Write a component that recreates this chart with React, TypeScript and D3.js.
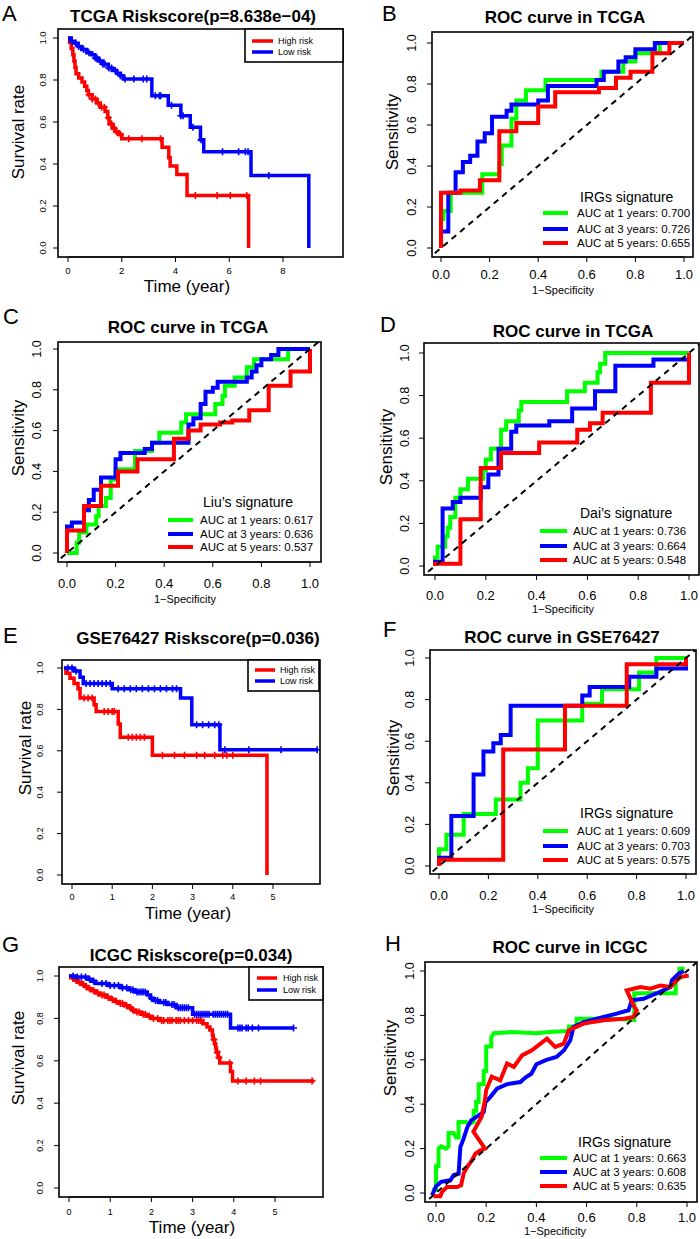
import React from 'react';
import * as d3 from 'd3';

const FONT = "'Liberation Sans', Arial, Helvetica, sans-serif";
const RED = '#FF0000';
const BLUE = '#0000FF';
const GREEN = '#00FF00';

// ---------------- tick labels / categories ----------------
const kmYTicks = [0, 0.2, 0.4, 0.6, 0.8, 1.0];
const rocTicks = [0, 0.2, 0.4, 0.6, 0.8, 1.0];
const tcgaTimeTicks = [0, 2, 4, 6, 8];
const gseTimeTicks = [0, 1, 2, 3, 4, 5];
const icgcTimeTicks = [0, 1, 2, 3, 4, 5];
const riskLabels = ['High risk', 'Low risk'];
const aucYears = [1, 3, 5];

// ---------------- KM: TCGA (A) ----------------
const tcgaHighSteps = [[0.06,0.98],[0.12,0.95],[0.18,0.92],[0.22,0.89],[0.26,0.86],[0.3,0.83],[0.4,0.81],[0.52,0.79],[0.62,0.77],[0.7,0.75],[0.76,0.73],[0.9,0.71],[1.07,0.69],[1.2,0.67],[1.38,0.65],[1.48,0.62],[1.53,0.59],[1.65,0.57],[1.75,0.555],[1.88,0.54],[2.0,0.52],[3.5,0.48],[3.75,0.43],[3.8,0.39],[4.05,0.35],[4.43,0.25],[6.72,0]];
const tcgaHighEnd = 6.72;
const tcgaHighCens = [0.78,0.9,1.02,1.12,1.25,1.35,1.5,1.6,1.62,1.72,1.8,1.95,2.26,2.75,3.44,4.74,5.55,6.04,6.65];
const tcgaLowSteps = [[0.12,0.985],[0.26,0.975],[0.38,0.96],[0.51,0.945],[0.7,0.93],[0.88,0.92],[1.0,0.905],[1.13,0.89],[1.3,0.875],[1.5,0.857],[1.65,0.845],[1.81,0.832],[1.95,0.82],[2.06,0.805],[3.12,0.725],[3.73,0.68],[4.2,0.63],[4.55,0.575],[4.93,0.515],[5.05,0.458],[6.81,0.345],[8.96,0]];
const tcgaLowEnd = 8.96;
const tcgaLowCens = [0.15,0.28,0.4,0.58,0.78,1.02,1.08,1.2,1.3,1.38,1.52,1.62,1.76,1.95,2.12,2.45,2.8,2.93,3.25,3.4,3.45,3.85,4.2,4.28,4.65,4.95,5.75,6.35,6.6,6.7,7.47];

// ---------------- KM: GSE76427 (E) ----------------
const gseStart = -0.2;
const gseHighSteps = [[-0.15,0.975],[-0.05,0.95],[0.05,0.925],[0.15,0.9],[0.2,0.855],[0.55,0.823],[0.6,0.79],[1.15,0.73],[1.2,0.665],[2.0,0.578],[4.85,0]];
const gseHighEnd = 4.85;
const gseHighCens = [0.3,0.4,0.5,0.8,0.9,1.0,1.05,1.4,1.5,1.6,1.7,1.8,2.25,2.55,2.8,3.1,3.3,3.55,3.75,3.85,4.0];
const gseLowSteps = [[0.05,0.985],[0.2,0.955],[0.28,0.925],[1.0,0.9],[2.7,0.855],[2.98,0.726],[3.68,0.605]];
const gseLowEnd = 6.1;
const gseLowCens = [-0.1,0.0,0.1,0.35,0.45,0.55,0.65,0.75,0.85,0.95,1.15,1.3,1.45,1.6,1.75,1.9,2.05,2.2,2.35,2.5,2.6,3.1,3.25,3.4,3.55,3.65,3.8,4.4,5.2,6.1];

// ---------------- KM: ICGC (G) ----------------
const icgcHighSteps = [[0.05,0.99],[0.12,0.98],[0.2,0.97],[0.3,0.96],[0.38,0.95],[0.45,0.94],[0.55,0.93],[0.65,0.92],[0.75,0.91],[0.9,0.9],[1.0,0.89],[1.1,0.88],[1.22,0.87],[1.35,0.86],[1.45,0.85],[1.52,0.84],[1.6,0.83],[1.75,0.82],[1.88,0.81],[2.0,0.8],[2.2,0.79],[3.25,0.775],[3.35,0.76],[3.42,0.745],[3.48,0.72],[3.5,0.7],[3.53,0.68],[3.56,0.66],[3.58,0.64],[3.62,0.615],[3.66,0.59],[3.92,0.55],[3.97,0.505]];
const icgcHighEnd = 5.95;
const icgcHighCens = [0.1,0.18,0.25,0.35,0.42,0.5,0.6,0.7,0.8,0.85,0.95,1.05,1.15,1.25,1.3,1.4,1.5,1.55,1.65,1.7,1.8,1.85,1.95,2.05,2.15,2.25,2.3,2.4,2.45,2.5,2.6,2.65,2.7,2.8,2.9,3.0,3.1,3.15,3.2,3.52,3.6,3.64,3.9,4.1,4.3,4.5,4.65,5.9];
const icgcLowSteps = [[0.15,0.995],[0.45,0.985],[0.55,0.975],[0.65,0.965],[0.95,0.955],[1.25,0.945],[1.45,0.935],[1.6,0.925],[1.9,0.91],[1.98,0.895],[2.05,0.885],[2.2,0.875],[2.4,0.865],[2.6,0.85],[3.0,0.82],[3.92,0.755]];
const icgcLowEnd = 5.45;
const icgcLowCens = [0.1,0.2,0.3,0.4,0.5,0.6,0.8,0.9,1.0,1.1,1.2,1.3,1.4,1.5,1.55,1.65,1.7,1.75,1.8,1.85,2.0,2.1,2.15,2.3,2.35,2.5,2.55,2.65,2.7,2.75,2.8,2.85,2.9,3.05,3.1,3.15,3.2,3.25,3.3,3.35,3.4,3.5,3.55,3.6,3.65,3.7,3.75,3.8,3.85,4.1,4.15,4.2,4.3,4.35,4.45,4.6,5.45];

// ---------------- ROC: TCGA IRGs (B) ----------------
const tcgaIrg1 = [[0,0],[0,0.14],[0.01,0.14],[0.01,0.18],[0.04,0.18],[0.04,0.27],[0.17,0.27],[0.17,0.36],[0.24,0.36],[0.24,0.41],[0.25,0.41],[0.25,0.5],[0.29,0.5],[0.29,0.63],[0.31,0.63],[0.31,0.72],[0.35,0.72],[0.35,0.77],[0.43,0.77],[0.43,0.82],[0.66,0.82],[0.66,0.86],[0.75,0.86],[0.75,0.91],[0.8,0.91],[0.8,0.95],[0.9,0.95],[0.9,1],[1,1]];
const tcgaIrg3 = [[0,0],[0,0.08],[0.03,0.08],[0.03,0.27],[0.06,0.27],[0.06,0.37],[0.09,0.37],[0.09,0.42],[0.12,0.42],[0.12,0.45],[0.15,0.45],[0.15,0.52],[0.18,0.52],[0.18,0.56],[0.21,0.56],[0.21,0.64],[0.27,0.64],[0.27,0.67],[0.29,0.67],[0.29,0.7],[0.4,0.7],[0.4,0.72],[0.44,0.72],[0.44,0.79],[0.64,0.79],[0.64,0.82],[0.67,0.82],[0.67,0.86],[0.73,0.86],[0.73,0.91],[0.76,0.91],[0.76,0.93],[0.8,0.93],[0.8,0.97],[0.88,0.97],[0.88,1],[1,1]];
const tcgaIrg5 = [[0,0],[0,0.27],[0.08,0.27],[0.08,0.28],[0.16,0.28],[0.16,0.33],[0.24,0.33],[0.24,0.57],[0.31,0.57],[0.31,0.61],[0.4,0.61],[0.4,0.69],[0.47,0.69],[0.47,0.76],[0.65,0.76],[0.65,0.78],[0.72,0.78],[0.72,0.83],[0.78,0.83],[0.78,0.86],[0.87,0.86],[0.87,0.95],[0.94,0.95],[0.94,1],[1,1]];
const tcgaIrgAuc = ['0.700', '0.726', '0.655'];

// ---------------- ROC: Liu (C) ----------------
const liu1 = [[0,0],[0.04,0],[0.04,0.05],[0.05,0.05],[0.05,0.1],[0.08,0.1],[0.08,0.14],[0.12,0.14],[0.12,0.18],[0.13,0.18],[0.13,0.23],[0.16,0.23],[0.16,0.27],[0.18,0.27],[0.18,0.36],[0.2,0.36],[0.2,0.41],[0.28,0.41],[0.28,0.5],[0.35,0.5],[0.35,0.54],[0.38,0.54],[0.38,0.59],[0.47,0.59],[0.47,0.64],[0.49,0.64],[0.49,0.68],[0.61,0.68],[0.61,0.73],[0.64,0.73],[0.64,0.77],[0.65,0.77],[0.65,0.82],[0.69,0.82],[0.69,0.86],[0.74,0.86],[0.74,0.91],[0.77,0.91],[0.77,0.95],[0.91,0.95],[0.91,1],[1,1]];
const liu3 = [[0,0],[0,0.13],[0.02,0.13],[0.02,0.15],[0.07,0.15],[0.07,0.21],[0.09,0.21],[0.09,0.26],[0.11,0.26],[0.11,0.31],[0.14,0.31],[0.14,0.37],[0.2,0.37],[0.2,0.46],[0.22,0.46],[0.22,0.49],[0.32,0.49],[0.32,0.51],[0.35,0.51],[0.35,0.54],[0.5,0.54],[0.5,0.63],[0.52,0.63],[0.52,0.66],[0.55,0.66],[0.55,0.73],[0.57,0.73],[0.57,0.79],[0.6,0.79],[0.6,0.81],[0.62,0.81],[0.62,0.84],[0.74,0.84],[0.74,0.86],[0.76,0.86],[0.76,0.89],[0.78,0.89],[0.78,0.92],[0.8,0.92],[0.8,0.95],[0.84,0.95],[0.84,0.97],[0.87,0.97],[0.87,1],[1,1]];
const liu5 = [[0,0],[0,0.11],[0.07,0.11],[0.07,0.23],[0.14,0.23],[0.14,0.33],[0.21,0.33],[0.21,0.4],[0.29,0.4],[0.29,0.46],[0.44,0.46],[0.44,0.56],[0.5,0.56],[0.5,0.6],[0.55,0.6],[0.55,0.63],[0.63,0.63],[0.63,0.64],[0.68,0.64],[0.68,0.65],[0.75,0.65],[0.75,0.7],[0.83,0.7],[0.83,0.82],[0.92,0.82],[0.92,0.89],[1,0.89],[1,1]];
const liuAuc = ['0.617', '0.636', '0.537'];

// ---------------- ROC: Dai (D) ----------------
const dai1 = [[0,0],[0,0.04],[0.01,0.04],[0.01,0.09],[0.04,0.09],[0.04,0.14],[0.05,0.14],[0.05,0.18],[0.06,0.18],[0.06,0.23],[0.08,0.23],[0.08,0.32],[0.1,0.32],[0.1,0.36],[0.13,0.36],[0.13,0.41],[0.19,0.41],[0.19,0.45],[0.2,0.45],[0.2,0.5],[0.22,0.5],[0.22,0.55],[0.26,0.55],[0.26,0.64],[0.28,0.64],[0.28,0.68],[0.33,0.68],[0.33,0.73],[0.34,0.73],[0.34,0.77],[0.52,0.77],[0.52,0.82],[0.59,0.82],[0.59,0.86],[0.64,0.86],[0.64,0.91],[0.65,0.91],[0.65,0.95],[0.67,0.95],[0.67,1],[1,1]];
const dai3 = [[0,0],[0,0.02],[0.03,0.02],[0.03,0.27],[0.07,0.27],[0.07,0.3],[0.1,0.3],[0.1,0.32],[0.18,0.32],[0.18,0.37],[0.21,0.37],[0.21,0.43],[0.25,0.43],[0.25,0.55],[0.3,0.55],[0.3,0.63],[0.32,0.63],[0.32,0.66],[0.45,0.66],[0.45,0.68],[0.54,0.68],[0.54,0.74],[0.63,0.74],[0.63,0.82],[0.71,0.82],[0.71,0.94],[0.86,0.94],[0.86,0.97],[1,0.97],[1,1]];
const dai5 = [[0,0],[0,0.01],[0.1,0.01],[0.1,0.22],[0.18,0.22],[0.18,0.46],[0.26,0.46],[0.26,0.53],[0.41,0.53],[0.41,0.58],[0.56,0.58],[0.56,0.64],[0.61,0.64],[0.61,0.67],[0.66,0.67],[0.66,0.72],[0.85,0.72],[0.85,0.86],[1,0.86],[1,1]];
const daiAuc = ['0.736', '0.664', '0.548'];

// ---------------- ROC: GSE76427 (F) ----------------
const gse1 = [[0,0],[0,0.08],[0.03,0.08],[0.03,0.15],[0.1,0.15],[0.1,0.25],[0.23,0.25],[0.23,0.32],[0.33,0.32],[0.33,0.4],[0.36,0.4],[0.36,0.47],[0.4,0.47],[0.4,0.7],[0.58,0.7],[0.58,0.78],[0.66,0.78],[0.66,0.85],[0.81,0.85],[0.81,0.93],[0.88,0.93],[0.88,1],[1,1]];
const gse3 = [[0,0],[0,0.04],[0.05,0.04],[0.05,0.24],[0.14,0.24],[0.14,0.44],[0.18,0.44],[0.18,0.55],[0.22,0.55],[0.22,0.59],[0.25,0.59],[0.25,0.63],[0.29,0.63],[0.29,0.77],[0.58,0.77],[0.58,0.82],[0.61,0.82],[0.61,0.86],[0.77,0.86],[0.77,0.91],[0.88,0.91],[0.88,0.95],[1,0.95],[1,0.96]];
const gse5 = [[0,0],[0,0.03],[0.26,0.03],[0.26,0.56],[0.51,0.56],[0.51,0.77],[0.76,0.77],[0.76,0.97],[1,0.97],[1,1]];
const gseAuc = ['0.609', '0.703', '0.575'];

// ---------------- ROC: ICGC (H) ----------------
const icgc1 = [[-0.015,0.015],[0,0.015],[0,0.12],[0.01,0.12],[0.01,0.2],[0.02,0.21],[0.04,0.2],[0.05,0.21],[0.05,0.27],[0.07,0.27],[0.08,0.25],[0.09,0.25],[0.09,0.32],[0.12,0.32],[0.13,0.31],[0.15,0.32],[0.15,0.37],[0.16,0.37],[0.16,0.41],[0.17,0.41],[0.17,0.49],[0.19,0.49],[0.19,0.55],[0.2,0.55],[0.2,0.66],[0.22,0.66],[0.22,0.7],[0.23,0.72],[0.3,0.725],[0.4,0.72],[0.45,0.725],[0.53,0.73],[0.53,0.75],[0.56,0.75],[0.56,0.785],[0.7,0.785],[0.79,0.78],[0.79,0.9],[0.92,0.9],[0.955,0.9],[0.955,0.97],[0.97,0.97],[0.97,1.01],[0.99,1.01]];
const icgc3 = [[-0.016,-0.01],[0,0.03],[0.02,0.05],[0.057,0.057],[0.07,0.08],[0.09,0.087],[0.097,0.207],[0.11,0.245],[0.125,0.297],[0.14,0.327],[0.17,0.35],[0.19,0.365],[0.197,0.41],[0.216,0.432],[0.243,0.47],[0.283,0.49],[0.336,0.5],[0.356,0.52],[0.38,0.537],[0.4,0.58],[0.44,0.6],[0.48,0.613],[0.51,0.643],[0.535,0.688],[0.548,0.748],[0.588,0.77],[0.668,0.793],[0.72,0.808],[0.767,0.823],[0.78,0.868],[0.827,0.875],[0.88,0.9],[0.934,0.928],[0.94,0.958],[0.967,0.988],[0.987,1.0]];
const icgc5 = [[-0.01,-0.015],[0.017,-0.015],[0.024,0.005],[0.044,0.027],[0.084,0.027],[0.1,0.035],[0.11,0.087],[0.124,0.117],[0.143,0.147],[0.157,0.177],[0.177,0.192],[0.195,0.2],[0.149,0.276],[0.182,0.344],[0.195,0.419],[0.2,0.464],[0.222,0.524],[0.256,0.507],[0.283,0.583],[0.31,0.568],[0.343,0.62],[0.382,0.643],[0.442,0.695],[0.475,0.658],[0.509,0.673],[0.529,0.733],[0.588,0.763],[0.668,0.778],[0.748,0.785],[0.787,0.793],[0.8,0.823],[0.787,0.845],[0.76,0.913],[0.814,0.928],[0.854,0.92],[0.894,0.935],[0.934,0.928],[0.973,0.973],[1.007,0.98]];
const icgcAuc = ['0.663', '0.608', '0.635'];

// ---------------- layouts ----------------
const layoutA = { id: 'A', box: [58, 29, 343, 257], xDom: [0, 8], xRng: [68, 283], yRng: [248, 38], title: [193, 22], letter: [2, 21], ylab: [18, 132], xlab: [187, 292], xtickY: 274, ytickX: 42, tickFs: 9.5, legend: { box: [245, 29, 343, 62], sx0: 252, sx1: 273, tx: 278, rows: [41, 52] } };
const layoutE = { id: 'E', box: [62, 660, 320, 884], xDom: [0, 5], xRng: [72, 273], yRng: [875, 668], title: [198, 644], letter: [3, 643], ylab: [25, 748], xlab: [188, 919], xtickY: 900, ytickX: 40, tickFs: 9, legend: { box: [248, 660, 319, 691], sx0: 255, sx1: 275, tx: 280, rows: [670, 681] } };
const layoutG = { id: 'G', box: [59, 967, 323, 1197], xDom: [0, 5], xRng: [69, 275], yRng: [1188, 976], title: [191, 961], letter: [2, 952], ylab: [18, 1058], xlab: [192, 1233], xtickY: 1215, ytickX: 40, tickFs: 9, legend: { box: [249, 967, 323, 1000], sx0: 257, sx1: 277, tx: 283, rows: [978, 990] } };

const layoutB = { id: 'B', box: [432, 32, 693, 257], xRng: [441, 684], yRng: [248, 43], title: [565, 23], letter: [382, 21], ylab: [392, 132], xlab: [563, 294], xtickY: 279, ytickX: 412, legend: { title: [580, 202], sx0: 543, sx1: 568, tx: 577, rows: [213, 229, 243] } };
const layoutC = { id: 'C', box: [58, 342, 321, 562], xRng: [67, 310], yRng: [553, 349], title: [188, 333], letter: [3, 324], ylab: [18, 438], xlab: [185, 603], xtickY: 588, ytickX: 37, legend: { title: [203, 507], sx0: 168, sx1: 193, tx: 200, rows: [520, 534, 547] } };
const layoutD = { id: 'D', box: [424, 343, 699, 575], xRng: [435, 689], yRng: [566, 353], title: [573, 337], letter: [380, 332], ylab: [386, 447], xlab: [563, 613], xtickY: 600, ytickX: 405, legend: { title: [580, 518], sx0: 540, sx1: 567, tx: 573, rows: [531, 546, 560] } };
const layoutF = { id: 'F', box: [430, 650, 696, 874], xRng: [439, 686], yRng: [866, 658], title: [562, 643], letter: [383, 637], ylab: [393, 758], xlab: [563, 913], xtickY: 900, ytickX: 410, legend: { title: [580, 818], sx0: 543, sx1: 568, tx: 577, rows: [831, 846, 860] } };
const layoutH = { id: 'H', box: [425, 962, 697, 1202], xRng: [436, 687], yRng: [1193, 971], title: [570, 953], letter: [385, 951], ylab: [390, 1058], xlab: [555, 1235], xtickY: 1222, ytickX: 410, legend: { title: [578, 1147], sx0: 540, sx1: 567, tx: 573, rows: [1158, 1172, 1186] } };

// ---------------- helpers ----------------
function stepPoints(start: number, steps: number[][], end: number) {
  const pts: number[][] = [[start, 1]];
  let s = 1;
  for (const [t, v] of steps) {
    pts.push([t, s]);
    pts.push([t, v]);
    s = v;
  }
  pts.push([end, s]);
  return pts;
}
function survAt(steps: number[][], t: number) {
  let s = 1;
  for (const [tt, v] of steps) if (tt <= t) s = v;
  return s;
}

function Letter({ p, text }: any) {
  return <text x={p[0]} y={p[1]} fontSize={22} fontFamily={FONT}>{text}</text>;
}

function KMPanel({ L, title, xTicks, start, highSteps, highEnd, highCens, lowSteps, lowEnd, lowCens }: any) {
  const x = d3.scaleLinear().domain(L.xDom).range(L.xRng);
  const y = d3.scaleLinear().domain([0, 1]).range(L.yRng);
  const line = d3.line<number[]>().x(d => x(d[0])).y(d => y(d[1]));
  const [bx0, by0, bx1, by1] = L.box;
  const clipId = 'clip' + L.id;
  const curves = [
    { steps: highSteps, end: highEnd, cens: highCens, color: RED },
    { steps: lowSteps, end: lowEnd, cens: lowCens, color: BLUE },
  ];
  const lg = L.legend;
  return (
    <g>
      <Letter p={L.letter} text={L.id} />
      <text x={L.title[0]} y={L.title[1]} fontSize={17} fontWeight="bold" textAnchor="middle" fontFamily={FONT}>{title}</text>
      <defs>
        <clipPath id={clipId}><rect x={bx0} y={by0} width={bx1 - bx0} height={by1 - by0} /></clipPath>
      </defs>
      <g clipPath={`url(#${clipId})`}>
        {curves.map((c, i) => (
          <g key={i}>
            <path d={line(stepPoints(start, c.steps, c.end)) || ''} fill="none" stroke={c.color} strokeWidth={3.5} strokeLinejoin="miter" />
            {c.cens.map((t: number, j: number) => {
              const cx = x(t), cy = y(survAt(c.steps, t));
              return <path key={j} d={`M${cx - 3.5},${cy}H${cx + 3.5}M${cx},${cy - 3.5}V${cy + 3.5}`} stroke={c.color} strokeWidth={1.6} />;
            })}
          </g>
        ))}
      </g>
      <rect x={bx0} y={by0} width={bx1 - bx0} height={by1 - by0} fill="none" stroke="#000" strokeWidth={1.6} />
      {/* legend */}
      <rect x={lg.box[0]} y={lg.box[1]} width={lg.box[2] - lg.box[0]} height={lg.box[3] - lg.box[1]} fill="#fff" stroke="#000" strokeWidth={1.6} />
      {riskLabels.map((lab, i) => (
        <g key={lab}>
          <line x1={lg.sx0} x2={lg.sx1} y1={lg.rows[i]} y2={lg.rows[i]} stroke={i === 0 ? RED : BLUE} strokeWidth={3.5} />
          <text x={lg.tx} y={lg.rows[i] + 3.3} fontSize={9} fontFamily={FONT}>{lab}</text>
        </g>
      ))}
      {/* axes */}
      <line x1={x(xTicks[0])} x2={x(xTicks[xTicks.length - 1])} y1={by1} y2={by1} stroke="#000" strokeWidth={1} />
      {xTicks.map((t: number) => (
        <g key={t}>
          <line x1={x(t)} x2={x(t)} y1={by1} y2={by1 + 5} stroke="#000" strokeWidth={1} />
          <text x={x(t)} y={L.xtickY} fontSize={L.tickFs} textAnchor="middle" fontFamily={FONT}>{t}</text>
        </g>
      ))}
      {kmYTicks.map((t) => (
        <g key={t}>
          <line x1={bx0 - 5} x2={bx0} y1={y(t)} y2={y(t)} stroke="#000" strokeWidth={1} />
          <text transform={`translate(${L.ytickX},${y(t)}) rotate(-90)`} fontSize={L.tickFs} textAnchor="middle" dominantBaseline="central" fontFamily={FONT}>{t.toFixed(1)}</text>
        </g>
      ))}
      <text transform={`translate(${L.ylab[0]},${L.ylab[1]}) rotate(-90)`} fontSize={17} textAnchor="middle" dominantBaseline="central" fontFamily={FONT}>Survival rate</text>
      <text x={L.xlab[0]} y={L.xlab[1]} fontSize={17} textAnchor="middle" fontFamily={FONT}>Time (year)</text>
    </g>
  );
}

function ROCPanel({ L, title, sigName, curves, aucs }: any) {
  const x = d3.scaleLinear().domain([0, 1]).range(L.xRng);
  const y = d3.scaleLinear().domain([0, 1]).range(L.yRng);
  const line = d3.line<number[]>().x(d => x(d[0])).y(d => y(d[1]));
  const [bx0, by0, bx1, by1] = L.box;
  const clipId = 'clip' + L.id;
  const colors = [GREEN, BLUE, RED];
  const lg = L.legend;
  return (
    <g>
      <Letter p={L.letter} text={L.id} />
      <text x={L.title[0]} y={L.title[1]} fontSize={17} fontWeight="bold" textAnchor="middle" fontFamily={FONT}>{title}</text>
      <defs>
        <clipPath id={clipId}><rect x={bx0} y={by0} width={bx1 - bx0} height={by1 - by0} /></clipPath>
      </defs>
      <g clipPath={`url(#${clipId})`}>
        {curves.map((c: number[][], i: number) => (
          <path key={i} d={line(c) || ''} fill="none" stroke={colors[i]} strokeWidth={4} strokeLinejoin="miter" />
        ))}
        <path d={line([[-0.06, -0.06], [1.06, 1.06]]) || ''} stroke="#000" strokeWidth={2} strokeDasharray="6,5" fill="none" />
      </g>
      <rect x={bx0} y={by0} width={bx1 - bx0} height={by1 - by0} fill="none" stroke="#000" strokeWidth={1.6} />
      {/* legend */}
      <text x={lg.title[0]} y={lg.title[1]} fontSize={14} fontFamily={FONT}>{sigName}</text>
      {aucYears.map((yr, i) => (
        <g key={yr}>
          <line x1={lg.sx0} x2={lg.sx1} y1={lg.rows[i]} y2={lg.rows[i]} stroke={colors[i]} strokeWidth={4} />
          <text x={lg.tx} y={lg.rows[i] + 4} fontSize={11.5} fontFamily={FONT}>{`AUC at ${yr} years: ${aucs[i]}`}</text>
        </g>
      ))}
      {/* axes */}
      <line x1={x(0)} x2={x(1)} y1={by1} y2={by1} stroke="#000" strokeWidth={1} />
      {rocTicks.map((t) => (
        <g key={'x' + t}>
          <line x1={x(t)} x2={x(t)} y1={by1} y2={by1 + 5} stroke="#000" strokeWidth={1} />
          <text x={x(t)} y={L.xtickY} fontSize={13} textAnchor="middle" fontFamily={FONT}>{t.toFixed(1)}</text>
        </g>
      ))}
      {rocTicks.map((t) => (
        <g key={'y' + t}>
          <line x1={bx0 - 5} x2={bx0} y1={y(t)} y2={y(t)} stroke="#000" strokeWidth={1} />
          <text transform={`translate(${L.ytickX},${y(t)}) rotate(-90)`} fontSize={12.5} textAnchor="middle" dominantBaseline="central" fontFamily={FONT}>{t.toFixed(1)}</text>
        </g>
      ))}
      <text transform={`translate(${L.ylab[0]},${L.ylab[1]}) rotate(-90)`} fontSize={17} textAnchor="middle" dominantBaseline="central" fontFamily={FONT}>Sensitivity</text>
      <text x={L.xlab[0]} y={L.xlab[1]} fontSize={11} textAnchor="middle" fontFamily={FONT}>1−Specificity</text>
    </g>
  );
}

export default function App() {
  return (
    <svg width={700} height={1239} viewBox="0 0 700 1239" style={{ position: 'absolute', left: 0, top: 0, background: '#fff' }}>
      <rect x={0} y={0} width={700} height={1239} fill="#fff" />
      <KMPanel L={layoutA} title="TCGA Riskscore(p=8.638e−04)" xTicks={tcgaTimeTicks} start={0}
        highSteps={tcgaHighSteps} highEnd={tcgaHighEnd} highCens={tcgaHighCens}
        lowSteps={tcgaLowSteps} lowEnd={tcgaLowEnd} lowCens={tcgaLowCens} />
      <ROCPanel L={layoutB} title="ROC curve in TCGA" sigName="IRGs signature" curves={[tcgaIrg1, tcgaIrg3, tcgaIrg5]} aucs={tcgaIrgAuc} />
      <ROCPanel L={layoutC} title="ROC curve in TCGA" sigName="Liu’s signature" curves={[liu1, liu3, liu5]} aucs={liuAuc} />
      <ROCPanel L={layoutD} title="ROC curve in TCGA" sigName="Dai’s signature" curves={[dai1, dai3, dai5]} aucs={daiAuc} />
      <KMPanel L={layoutE} title="GSE76427 Riskscore(p=0.036)" xTicks={gseTimeTicks} start={gseStart}
        highSteps={gseHighSteps} highEnd={gseHighEnd} highCens={gseHighCens}
        lowSteps={gseLowSteps} lowEnd={gseLowEnd} lowCens={gseLowCens} />
      <ROCPanel L={layoutF} title="ROC curve in GSE76427" sigName="IRGs signature" curves={[gse1, gse3, gse5]} aucs={gseAuc} />
      <KMPanel L={layoutG} title="ICGC Riskscore(p=0.034)" xTicks={icgcTimeTicks} start={0}
        highSteps={icgcHighSteps} highEnd={icgcHighEnd} highCens={icgcHighCens}
        lowSteps={icgcLowSteps} lowEnd={icgcLowEnd} lowCens={icgcLowCens} />
      <ROCPanel L={layoutH} title="ROC curve in ICGC" sigName="IRGs signature" curves={[icgc1, icgc3, icgc5]} aucs={icgcAuc} />
    </svg>
  );
}
